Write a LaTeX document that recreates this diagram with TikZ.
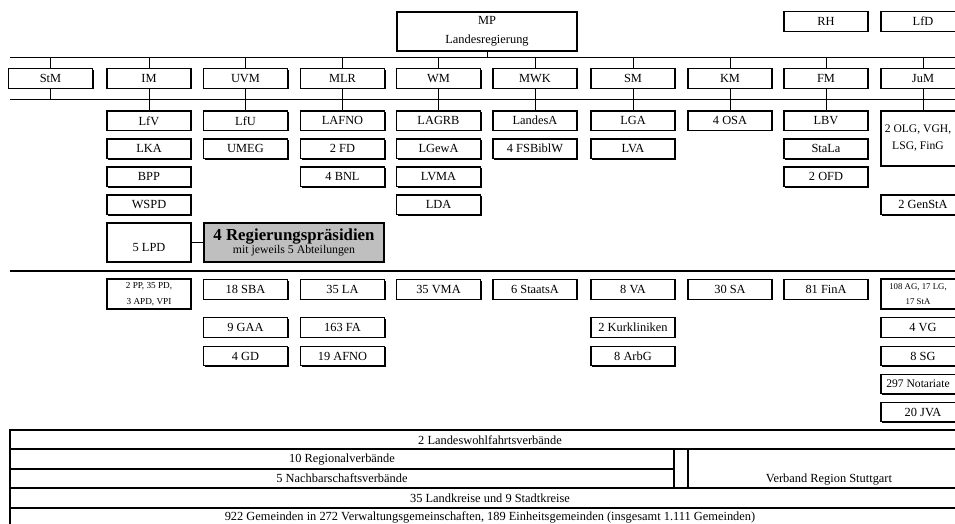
\documentclass[tikz,border=0pt]{standalone}
\usepackage{fontspec}
\setmainfont{Liberation Serif}
\usetikzlibrary{shadows}
\begin{document}
\begin{tikzpicture}[x=1pt,y=-1pt,
  box/.style={draw, line width=1.3pt, fill=white, minimum width=84pt, minimum height=19.5pt,
    inner sep=0pt, font=\fontsize{12.4}{14}\selectfont,
    drop shadow={shadow xshift=1pt, shadow yshift=-1pt, fill=black, opacity=1}},
  twoline/.style={box, minimum height=30pt, align=center, font=\fontsize{9.2}{15.5}\selectfont},
  conn/.style={line width=0.8pt},
  rule/.style={line width=0.8pt},
  thickrule/.style={line width=1.6pt},
  tab/.style={line width=1.5pt},
  celltext/.style={inner sep=0pt, font=\fontsize{12.4}{14}\selectfont}
]
\useasboundingbox (0,0) rectangle (955,524);
\clip (0,0) rectangle (955,524);

% top level
\node[box, minimum width=180pt, minimum height=39pt, align=center, font=\fontsize{12.4}{18.5}\selectfont] (MP) at (487,31.5) {MP\\Landesregierung};
\node[box] (RH) at (826,21.5) {RH};
\node[box] (LfD) at (923,21.5) {LfD};

% rules
\coordinate (L1a) at (10,57);  \coordinate (L1b) at (955,57);
\coordinate (L2a) at (10,99);  \coordinate (L2b) at (955,99);
\coordinate (L3a) at (10,271); \coordinate (L3b) at (955,271);
\draw[rule] (L1a) -- (L1b);
\draw[rule] (L2a) -- (L2b);
\draw[thickrule] (L3a) -- (L3b);
\draw[conn] (MP.south) -- (MP.south |- L1a);

% ministries
\foreach \n/\x in {StM/50.5, IM/149, UVM/245.5, MLR/342.5, WM/438.5, MWK/535, SM/633, KM/730, FM/826, JuM/923}{
  \node[box] (\n) at (\x,78.5) {\n};
  \draw[conn] (\n.north) -- (\n.north |- L1a);
  \draw[conn] (\n.south) -- (\n.south |- L2a);
}

% upper subordinate offices
\node[box] (LfV)  at (149,120.75) {LfV};
\node[box] (LKA)  at (149,148.75) {LKA};
\node[box] (BPP)  at (149,176.75) {BPP};
\node[box] (WSPD) at (149,204.75) {WSPD};
\node[box, minimum height=39pt, align=center, font=\fontsize{12.4}{19}\selectfont] (LPD) at (149,242.5) {\mbox{}\\5 LPD};
\node[box, fill=black!25, minimum width=180pt, minimum height=39pt, align=center] (RP) at (294,242.5)
  {{\fontsize{16.8}{18}\selectfont\bfseries 4 Regierungspräsidien}\\[-1pt]{\fontsize{11.8}{13}\selectfont mit jeweils 5 Abteilungen}};
\draw[conn] (LPD.east) -- (RP.west);

\node[box] (LfU)  at (245.5,120.75) {LfU};
\node[box] (UMEG) at (245.5,148.75) {UMEG};

\node[box] (LAFNO) at (342.5,120.75) {LAFNO};
\node[box] (FD)    at (342.5,148.75) {2 FD};
\node[box] (BNL)   at (342.5,176.75) {4 BNL};

\node[box] (LAGRB) at (438.5,120.75) {LAGRB};
\node[box] (LGewA) at (438.5,148.75) {LGewA};
\node[box] (LVMA)  at (438.5,176.75) {LVMA};
\node[box] (LDA)   at (438.5,204.75) {LDA};

\node[box] (LandesA) at (535,120.75) {LandesA};
\node[box] (FSBiblW) at (535,148.75) {4 FSBiblW};

\node[box] (LGA) at (633,120.75) {LGA};
\node[box] (LVA) at (633,148.75) {LVA};

\node[box] (OSA) at (730,120.75) {4 OSA};

\node[box] (LBV)  at (826,120.75) {LBV};
\node[box] (StaLa) at (826,148.75) {StaLa};
\node[box] (OFD)  at (826,176.75) {2 OFD};

\node[box, minimum height=55pt] (OLG) at (923,138.5) {};
\node[inner sep=0pt, align=center, font=\fontsize{11.6}{17}\selectfont] (OLGt) at (918,138.5) {2 OLG, VGH,\\LSG, FinG};
\node[box] (GenStA) at (923,204.75) {2 GenStA};

\foreach \n in {LfV, LfU, LAFNO, LAGRB, LandesA, LGA, OSA, LBV, OLG}{
  \draw[conn] (\n.north) -- (\n.north |- L2a);
}

% lower level
\node[twoline] (PP) at (149,294) {2 PP, 35 PD,\\3 APD, VPI};
\node[box] (SBA) at (245.5,289.5) {18 SBA};
\node[box] (GAA) at (245.5,327.5) {9 GAA};
\node[box] (GD)  at (245.5,356) {4 GD};
\node[box] (LA)   at (342.5,289.5) {35 LA};
\node[box] (FA)   at (342.5,327.5) {163 FA};
\node[box] (AFNO) at (342.5,356) {19 AFNO};
\node[box] (VMA) at (438.5,289.5) {35 VMA};
\node[box] (StaatsA) at (535,289.5) {6 StaatsA};
\node[box] (VA)   at (633,289.5) {8 VA};
\node[box] (Kur)  at (633,327.5) {2 Kurkliniken};
\node[box] (ArbG) at (633,356) {8 ArbG};
\node[box] (SA)   at (730,289.5) {30 SA};
\node[box] (FinA) at (826,289.5) {81 FinA};
\node[box, minimum height=30pt] (AG) at (923,294) {};
\node[inner sep=0pt, align=center, font=\fontsize{8.8}{15.5}\selectfont] (AGt) at (918,294) {108 AG, 17 LG,\\17 StA};
\node[box] (VG)  at (923,327.5) {4 VG};
\node[box] (SG)  at (923,356) {8 SG};
\node[box] (Not) at (923,384) {};
\node[inner sep=0pt, font=\fontsize{11.6}{14}\selectfont] (Nott) at (918,384) {297 Notariate};
\node[box] (JVA) at (923,412) {20 JVA};

% bottom table
\draw[tab] (10,530) -- (10,430) -- (970,430);
\draw[tab] (10,449) -- (970,449);
\draw[tab] (10,469) -- (674,469);
\draw[tab] (10,488) -- (970,488);
\draw[tab] (10,508) -- (970,508);
\draw[tab] (674,449) -- (674,488);
\draw[tab] (688,449) -- (688,488);
\node[celltext] (LWV) at (490,440) {2 Landeswohlfahrtsverbände};
\node[celltext] (RV)  at (342,459.5) {10 Regionalverbände};
\node[celltext] (NV)  at (342,478.5) {5 Nachbarschaftsverbände};
\node[celltext] (VRS) at (829,480) {Verband Region Stuttgart};
\node[celltext] (LK)  at (490,498.5) {35 Landkreise und 9 Stadtkreise};
\node[celltext] (GEM) at (490,517.5) {922 Gemeinden in 272 Verwaltungsgemeinschaften, 189 Einheitsgemeinden (insgesamt 1.111 Gemeinden)};
\end{tikzpicture}
\end{document}
